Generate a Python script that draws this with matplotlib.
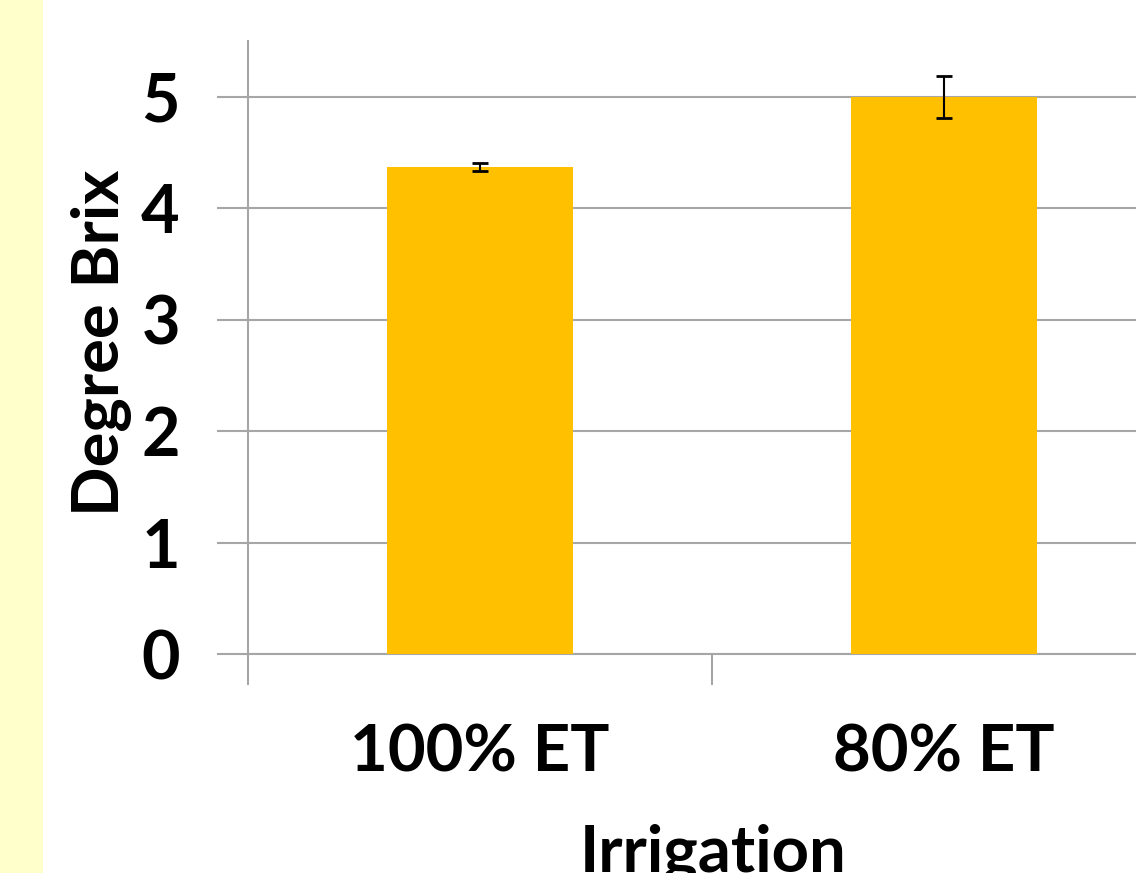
import matplotlib
matplotlib.use("Agg")
import matplotlib.pyplot as plt
from matplotlib.patches import Rectangle

# data
categories = ["100% ET", "80% ET"]
brix = [4.37, 5.0]
brix_err = [0.035, 0.19]
y_ticks = [0, 1, 2, 3, 4, 5]

bar_color = "#FFC000"
grid_color = "#A6A6A6"

plt.rcParams['font.family'] = ['Lato', 'DejaVu Sans']
plt.rcParams['font.weight'] = 'bold'

fig = plt.figure(figsize=(11.36, 8.73), dpi=100)
fig.patch.set_facecolor("white")

# light yellow strip on the left
fig.patches.append(Rectangle((0, 0), 43 / 1136, 1, transform=fig.transFigure,
                             facecolor="#FFFFCC", edgecolor="none", zorder=0))

ax = fig.add_axes([248 / 1136, 219 / 873, 928 / 1136, 613 / 873])
x = range(len(categories))
ax.bar(x, brix, width=0.4, color=bar_color, zorder=3)
ax.errorbar(x, brix, yerr=brix_err, fmt="none", ecolor="black", elinewidth=1.5,
            capsize=6, capthick=2, zorder=4)

ax.set_xlim(-0.5, 1.5)
ax.set_ylim(0, 5.5)
ax.set_yticks(y_ticks)
ax.set_xticks([-0.5, 0.5, 1.5], minor=False)
ax.set_xticklabels(["", "", ""])
ax.set_xticks(list(x), minor=True)
ax.set_xticklabels(categories, minor=True)
ax.tick_params(axis="x", which="minor", length=0, pad=50, labelsize=47)
ax.tick_params(axis="x", which="major", length=22, width=1.5, color=grid_color)
ax.tick_params(axis="y", length=22, width=1.5, color=grid_color, pad=27, labelsize=48)

ax.grid(axis="y", color=grid_color, linewidth=1.5, zorder=0)
ax.set_axisbelow(True)
for side in ["top", "right"]:
    ax.spines[side].set_visible(False)
for side in ["left", "bottom"]:
    ax.spines[side].set_color(grid_color)
    ax.spines[side].set_linewidth(1.5)

fig.text(101 / 1136, 1 - 343 / 873, "Degree Brix", rotation=90, ha="center",
         va="center", fontsize=47, fontweight="bold")
fig.text(713 / 1136, 1 - 824 / 873, "Irrigation", ha="center", va="top",
         fontsize=47, fontweight="bold")

fig.savefig("out.png", dpi=100)
plt.close(fig)
